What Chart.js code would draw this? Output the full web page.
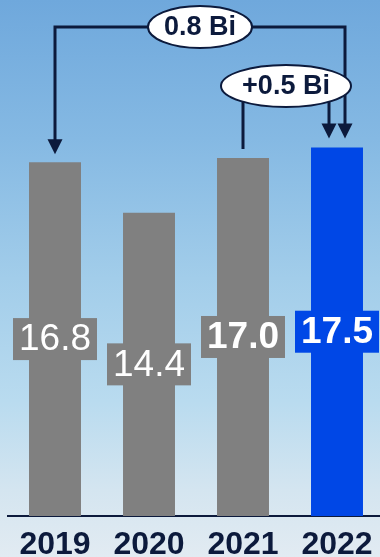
<!DOCTYPE html>
<html>
<head>
<meta charset="utf-8">
<script src="https://cdn.jsdelivr.net/npm/chart.js@4.4.0/dist/chart.umd.min.js"></script>
<style>
  html, body { margin: 0; padding: 0; width: 380px; height: 557px; overflow: hidden; }
  body {
    background: linear-gradient(180deg, #6fa8dc 0%, #85b9e3 25%, #a2cdea 50%, #b9dbef 72%, #d4e5f0 88%, #e2ebf2 100%);
  }
  #wrap { position: relative; width: 384px; height: 557px; }
</style>
</head>
<body>
<div id="wrap"><canvas id="chart" width="384" height="557"></canvas></div>
<script>
const years = ["2019", "2020", "2021", "2022"];
const revenue = [16.8, 14.4, 17.0, 17.5];
const valueLabels = ["16.8", "14.4", "17.0", "17.5"];

// change brackets: from bar -> to bar
const bracketLabels = ["0.8 Bi", "+0.5 Bi"];
const bracketFrom = [0, 2];
const bracketTo = [3, 3];

const GRAY = "#808080";
const BLUE = "#0047e6";
const NAVY = "#0c1a3c";
const barColors = [GRAY, GRAY, GRAY, BLUE];
const labelBold = [false, false, true, true];

const valueBoxes = {
  id: "valueBoxes",
  afterDatasetsDraw(chart) {
    const ctx = chart.ctx;
    const meta = chart.getDatasetMeta(0);
    ctx.save();
    meta.data.forEach((bar, i) => {
      const cy = (bar.y + bar.base) / 2;
      ctx.fillStyle = barColors[i];
      ctx.fillRect(bar.x - 42, cy - 21, 84, 42);
      ctx.fillStyle = "#ffffff";
      ctx.font = (labelBold[i] ? "bold " : "") + "37px 'Liberation Sans', Arial, sans-serif";
      ctx.textAlign = "center";
      ctx.textBaseline = "middle";
      ctx.fillText(valueLabels[i], bar.x, cy + 1);
    });
    ctx.restore();
  }
};

function arrowHead(ctx, x, tip) {
  ctx.beginPath();
  ctx.moveTo(x - 7.5, tip - 15);
  ctx.lineTo(x + 7.5, tip - 15);
  ctx.lineTo(x, tip);
  ctx.closePath();
  ctx.fill();
}

const brackets = {
  id: "brackets",
  afterDraw(chart) {
    const ctx = chart.ctx;
    const xs = chart.scales.x;
    const ys = chart.scales.y;
    // level, right offset, arrow on "from" end, ellipse half-width
    const cfg = [
      { level: 27, dxTo: 8, arrowFrom: true, rx: 52 },
      { level: 86, dxTo: -8, arrowFrom: false, rx: 65 }
    ];
    ctx.save();
    ctx.strokeStyle = NAVY;
    ctx.fillStyle = NAVY;
    ctx.lineWidth = 3;
    const centers = [];
    bracketLabels.forEach((lab, k) => {
      const c = cfg[k];
      const x1 = xs.getPixelForValue(bracketFrom[k]);
      const x2 = xs.getPixelForValue(bracketTo[k]) + c.dxTo;
      const t1 = ys.getPixelForValue(revenue[bracketFrom[k]]) - (c.arrowFrom ? 8 : 9);
      const t2 = ys.getPixelForValue(revenue[bracketTo[k]]) - 9;
      ctx.beginPath();
      ctx.moveTo(x1, c.arrowFrom ? t1 - 14 : t1);
      ctx.lineTo(x1, c.level);
      ctx.lineTo(x2, c.level);
      ctx.lineTo(x2, t2 - 14);
      ctx.stroke();
      if (c.arrowFrom) arrowHead(ctx, x1, t1);
      arrowHead(ctx, x2, t2);
      centers.push([(x1 + x2) / 2, c.level, c.rx]);
    });
    bracketLabels.forEach((lab, k) => {
      const [cx, cy, rx] = centers[k];
      ctx.beginPath();
      ctx.ellipse(cx, cy, rx, 21, 0, 0, Math.PI * 2);
      ctx.fillStyle = "#ffffff";
      ctx.fill();
      ctx.lineWidth = 2;
      ctx.strokeStyle = NAVY;
      ctx.stroke();
      ctx.fillStyle = NAVY;
      ctx.font = "bold 27px 'Liberation Sans', Arial, sans-serif";
      ctx.textAlign = "center";
      ctx.textBaseline = "middle";
      ctx.fillText(lab, cx, cy + 1);
    });
    ctx.restore();
  }
};

new Chart(document.getElementById("chart"), {
  type: "bar",
  data: {
    labels: years,
    datasets: [{
      data: revenue,
      backgroundColor: barColors,
      borderWidth: 0,
      categoryPercentage: 1,
      barPercentage: 0.553
    }]
  },
  options: {
    responsive: false,
    animation: false,
    layout: { padding: { left: 8, right: 0, top: 0, bottom: 0 } },
    plugins: { legend: { display: false }, tooltip: { enabled: false } },
    scales: {
      x: {
        afterFit(scale) {
          scale.height = 41;
          scale.paddingLeft = 0;
          scale.paddingRight = 0;
        },
        grid: { display: false, drawTicks: false },
        border: { display: true, color: NAVY, width: 2 },
        ticks: {
          color: NAVY,
          padding: 16,
          font: { family: "'Liberation Sans', Arial, sans-serif", size: 32, weight: "bold", lineHeight: 0.8 }
        }
      },
      y: { display: false, min: 0, max: 24.5 }
    }
  },
  plugins: [valueBoxes, brackets]
});
</script>
</body>
</html>
